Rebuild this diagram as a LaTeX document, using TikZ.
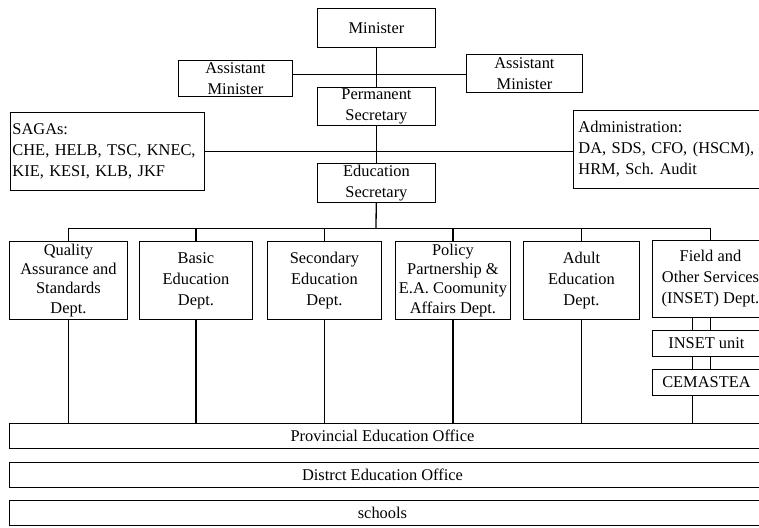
\documentclass[tikz,border=0pt]{standalone}
\usepackage{fontspec}
\setmainfont{Liberation Serif}
\begin{document}
\begin{tikzpicture}[x=1pt,y=-1pt,
  box/.style={draw, line width=0.9pt, inner sep=0pt, align=center, anchor=north west,
    font=\fontsize{16.4}{21}\selectfont},
  tightbox/.style={box, font=\fontsize{16.4}{19.2}\selectfont},
  lbox/.style={box, align=left},
  conn/.style={line width=0.9pt},
  vconn/.style={line width=1.3pt}]
\useasboundingbox (0,0) rectangle (759,527);
% top hierarchy
\node[box, minimum width=118pt, minimum height=39pt] (min) at (317,8) {Minister};
\node[box, minimum width=114pt, minimum height=36pt] (am1) at (178,60) {Assistant\\Minister};
\node[box, minimum width=116pt, minimum height=38pt] (am2) at (466,54) {Assistant\\Minister};
\node[box, minimum width=118pt, minimum height=38pt] (ps) at (317,87) {Permanent\\Secretary};
\node[lbox, minimum width=194pt, minimum height=78pt, text width=190pt, inner xsep=2pt] (saga) at (10,112) {SAGAs:\\CHE, HELB, TSC, KNEC,\\KIE, KESI, KLB, JKF};
\node[lbox, minimum width=196pt, minimum height=78pt, text width=190pt, inner xsep=5pt] (admin) at (573,110) {Administration:\\DA, SDS, CFO, (HSCM),\\HRM, Sch.\ Audit};
\node[box, minimum width=118pt, minimum height=39pt] (es) at (317,163) {Education\\Secretary};
% departments
\node[tightbox, minimum width=118pt, minimum height=78pt] (q) at (9,241) {Quality\\Assurance and\\Standards\\Dept.};
\node[box, minimum width=113pt, minimum height=78pt] (b) at (139,241) {Basic\\Education\\Dept.};
\node[box, minimum width=114pt, minimum height=78pt] (s) at (267,241) {Secondary\\Education\\Dept.};
\node[tightbox, minimum width=115pt, minimum height=78pt] (p) at (395,241) {Policy\\Partnership \&\\E.A. Coomunity\\Affairs Dept.};
\node[box, minimum width=116pt, minimum height=78pt] (a) at (523,241) {Adult\\Education\\Dept.};
\node[box, minimum width=116pt, minimum height=77pt] (f) at (652,240) {Field and\\Other Services\\(INSET) Dept.};
\node[box, minimum width=108pt, minimum height=26pt] (inset) at (652,330) {INSET unit};
\node[box, minimum width=108pt, minimum height=26pt] (cem) at (652,369) {CEMASTEA};
% bars
\node[box, minimum width=756pt, minimum height=25pt] (prov) at (9,423) {Provincial Education Office\hspace{10pt}};
\node[box, minimum width=756pt, minimum height=25pt] (dist) at (9,462) {Distrct Education Office\hspace{10pt}};
\node[box, minimum width=756pt, minimum height=25pt] (sch) at (9,500) {schools\hspace{10pt}};
% connectors
\draw[vconn] (min) -- (ps);
\draw[vconn] (ps) -- (es);
\coordinate (amy) at (376,74);
\draw[conn] (am1.east |- amy) -- (am2.west |- amy);
\draw[conn] (saga.east) -- (saga.east -| admin.west);
\coordinate (bus) at (376,228);
\draw[vconn] (es) -- (bus);
\draw[conn] (q.north |- bus) -- (f.north |- bus);
\foreach \d in {q,b,s,p,a,f} {
  \draw[vconn] (\d.north |- bus) -- (\d.north);
}
\foreach \d in {q,b,s,p,a} {
  \draw[vconn] (\d.south) -- (\d.south |- prov.north);
}
\coordinate (fl) at ([xshift=-18pt]f.south);
\draw[vconn] (fl) -- (fl |- inset.north);
\draw[vconn] (f.south) -- (f.south |- inset.north);
\draw[vconn] (fl |- inset.south) -- (fl |- cem.north);
\draw[vconn] (f.south |- inset.south) -- (f.south |- cem.north);
\draw[vconn] (fl |- cem.south) -- (fl |- prov.north);
\end{tikzpicture}
\end{document}
